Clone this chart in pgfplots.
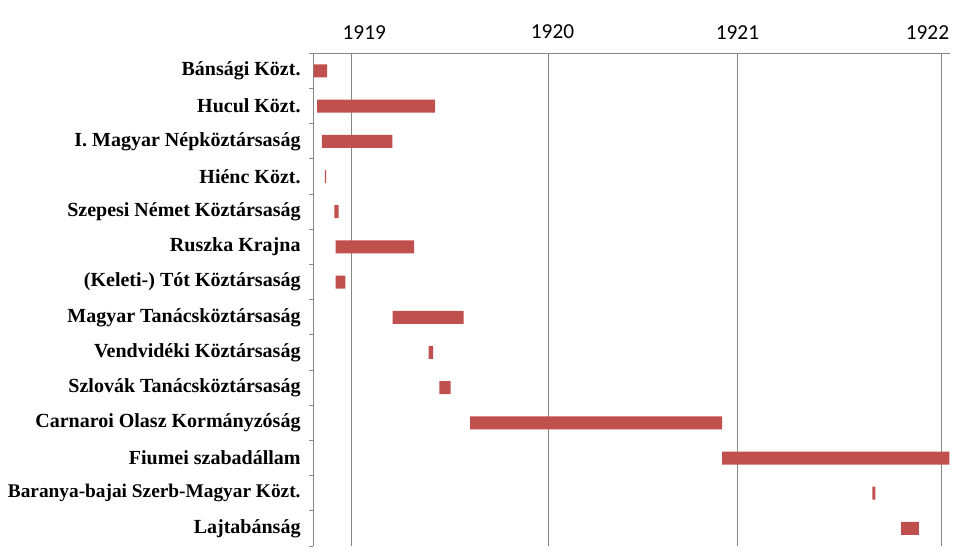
\documentclass[border=0pt]{standalone}
\usepackage{fontspec}
\setmainfont{Liberation Serif}
\newfontfamily\calib{Carlito}
\usepackage{pgfplots}
\usepackage{pgfplotstable}
\pgfplotsset{compat=1.18}
\definecolor{barred}{HTML}{C0504D}
\definecolor{gridgray}{HTML}{868686}

\pgfplotstableread{
start dur
1918.811 0.069
1918.829 0.602
1918.853 0.359
1918.868 0.006
1918.916 0.022
1918.923 0.400
1918.923 0.049
1919.214 0.362
1919.398 0.022
1919.452 0.058
1919.610 1.286
1920.896 1.160
1921.663 0.015
1921.809 0.091
}\states

\begin{document}
\begin{tikzpicture}
\begin{axis}[name=ax,
  scale only axis, width=477.5pt, height=369.5pt,
  xbar stacked, bar width=9.75pt,
  xmin=1918.809, xmax=1922.059,
  ymin=-0.5, ymax=13.5, y dir=reverse,
  axis x line*=top, axis y line*=left,
  axis line style={gridgray, line width=0.75pt},
  major tick length=0pt, minor tick length=3pt, tick align=outside,
  xtick={1919.003,1920.010,1920.973,1922.014}, xticklabels={},
  xmajorgrids, major grid style={gridgray, line width=0.75pt},
  extra x ticks={1919.069,1920.030,1920.974,1921.944},
  extra x tick labels={1919,1920,1921,1922},
  extra x tick style={grid=none},
  x tick style={draw=none},
  xticklabel style={font=\calib\fontsize{16}{19}\selectfont, inner sep=0pt, yshift=10.5pt},
  ytick={0,...,13},
  yticklabels={Bánsági Közt.,Hucul Közt.,I. Magyar Népköztársaság,Hiénc Közt.,Szepesi Német Köztársaság,Ruszka Krajna,(Keleti-) Tót Köztársaság,Magyar Tanácsköztársaság,Vendvidéki Köztársaság,Szlovák Tanácsköztársaság,Carnaroi Olasz Kormányzóság,Fiumei szabadállam,{\fontsize{14.5}{18}\selectfont Baranya-bajai Szerb-Magyar Közt.},Lajtabánság},
  minor ytick={-0.5,0.5,...,13.5},
  every minor y tick/.style={gridgray, line width=0.75pt},
  every major y tick/.style={draw=none},
  yticklabel style={font=\bfseries\fontsize{15}{18}\selectfont, inner sep=0pt, xshift=-9.4pt},
]
\addplot [draw=none, fill=none, forget plot] table [x=start, y expr=\coordindex] {\states};
\addplot [fill=barred, draw=none] table [x=dur, y expr=\coordindex] {\states};
\end{axis}
\pgfresetboundingbox
\path ([xshift=-235pt,yshift=-5.25pt]ax.south west) rectangle ([xshift=7.5pt,yshift=40pt]ax.north east);
\end{tikzpicture}
\end{document}
